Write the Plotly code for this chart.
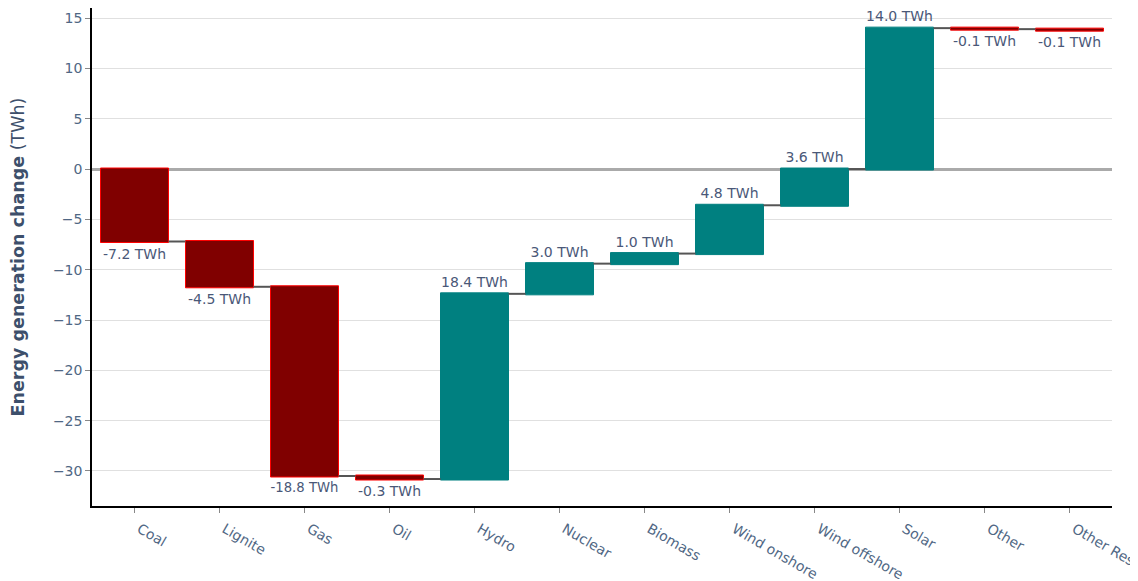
import plotly.graph_objects as go

categories = ["Coal", "Lignite", "Gas", "Oil", "Hydro", "Nuclear", "Biomass",
              "Wind onshore", "Wind offshore", "Solar", "Other", "Other Res"]
changes = [-7.2, -4.5, -18.8, -0.3, 18.4, 3.0, 1.0, 4.8, 3.6, 14.0, -0.1, -0.1]
labels = [f"{v:.1f} TWh" for v in changes]

FONT = "DejaVu Sans, Verdana, sans-serif"

fig = go.Figure(go.Waterfall(
    x=categories,
    y=changes,
    measure=["relative"] * len(changes),
    text=labels,
    textposition="outside",
    textfont=dict(color="#4a5878", size=14, family=FONT),
    decreasing=dict(marker=dict(color="#800000", line=dict(color="#ff0000", width=1))),
    increasing=dict(marker=dict(color="#008080", line=dict(color="#008080", width=1))),
    connector=dict(line=dict(color="#555555", width=2)),
    cliponaxis=False,
))

fig.update_layout(
    width=1138, height=581,
    template="plotly_white",
    paper_bgcolor="white", plot_bgcolor="white",
    margin=dict(l=84, r=34, t=0, b=83, autoexpand=False),
    showlegend=False,
    font=dict(family=FONT, color="#506784"),
)
fig.update_yaxes(
    range=[-33.48, 16.0],
    automargin=False,
    title=dict(text="<b>Energy generation change</b> (TWh)",
               font=dict(size=17.5, color="#3d4f6b", family=FONT), standoff=27),
    showline=True, linecolor="black", linewidth=1.5,
    ticks="outside", tickcolor="#888888", ticklen=5,
    gridcolor="#e0e0e0", gridwidth=1,
    zeroline=True, zerolinecolor="#aaaaaa", zerolinewidth=3,
    tickfont=dict(size=14, color="#506784", family=FONT),
    dtick=5,
)
fig.update_xaxes(
    automargin=False,
    showline=True, linecolor="black", linewidth=1.5,
    ticks="outside", tickcolor="#888888", ticklen=5,
    tickangle=30,
    ticklabelstandoff=3, ticklabelshift=5,
    tickfont=dict(size=14, color="#506784", family=FONT),
    showgrid=False,
)

fig.write_html("out.html")
